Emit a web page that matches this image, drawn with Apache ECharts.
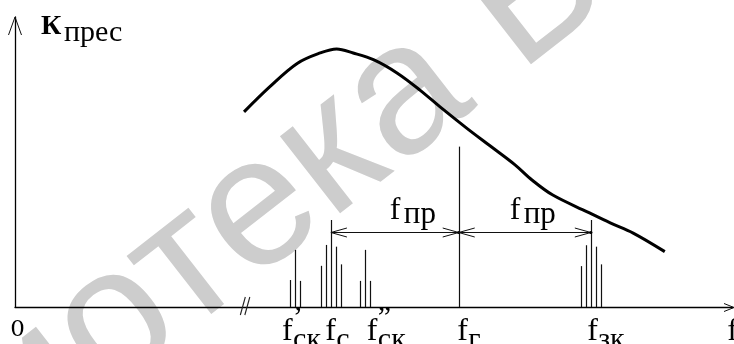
<!DOCTYPE html>
<html><head><meta charset="utf-8">
<script src="https://cdn.jsdelivr.net/npm/echarts@6/dist/echarts.min.js"></script>
<style>html,body{margin:0;padding:0;background:#fff}#c{width:734px;height:344px}</style>
</head><body><div id="c"></div>
<script>
// ---- data (arbitrary frequency units 0..100, gain units 0..100) ----
const curveX = [31.9, 35.5, 39.3, 42.5, 44.8, 47.1, 50.0, 53.2, 56.4, 59.2, 62.9, 66.2, 69.6, 72.0, 74.9, 79.7, 82.9, 86.1, 90.5];
const curveY = [67.3, 76.0, 84.0, 87.6, 89.0, 87.6, 85.2, 80.7, 74.8, 69.0, 61.7, 55.5, 49.1, 43.8, 38.6, 32.8, 29.0, 25.5, 19.1];
const spikeX = [38.3, 39.0, 39.7, 42.6, 43.3, 44.0, 44.7, 45.4, 48.1, 48.8, 49.5, 61.8, 78.8, 79.5, 80.2, 80.9, 81.6];
const spikeH = [9.3, 19.7, 9.0, 14.2, 21.4, 30.0, 20.8, 14.7, 9.0, 19.7, 9.0, 55.3, 14.1, 21.3, 30.0, 20.8, 14.7];
const fS = 44.0, fG = 61.8, fZK = 80.2;
const dimLevel = 26.0;
const dimLabelX = [52.2, 68.9];
const breakX = 31.8;
const tickMain = ['0', 'f', 'f', 'f', 'f', 'f', 'f'];
const tickSup  = ['', '’', '', '”', '', '', ''];
const tickSub  = ['', 'ск', 'с', 'ск', 'г', 'зк', ''];
const tickX    = [0.35, 37.2, 43.2, 49.0, 61.6, 79.7, 99.2];
const yTitleMain = 'К', yTitleSub = 'прес';
const dimLabelMain = 'f', dimLabelSub = 'пр';
const watermark = 'Библиотека БГУИР';

const SERIF = '"Liberation Serif", "Times New Roman", serif';
const chart = echarts.init(document.getElementById('c'));

function txt(x, y, text, size, opts) {
  opts = opts || {};
  return { type: 'text', x: x, y: y, z2: 10,
    style: { text: text, fill: '#000', font: (opts.bold ? 'bold ' : '') + size + 'px ' + (opts.family || SERIF),
      align: opts.align || 'left', verticalAlign: 'middle' } };
}
function chevronH(x, y, dir, len, spread) {
  return { type: 'polyline', shape: { points: [[x - dir * len, y - spread], [x, y], [x - dir * len, y + spread]] },
    style: { stroke: '#111', fill: null, lineWidth: 1 } };
}

const WM_ANG = 38 * Math.PI / 180, WM_SIZE = 185;
const wmAnchor = [447, 65];
const wmSpace = 0.278 * WM_SIZE;
const wmWords = watermark.split(' ');

const option = {
  animation: false,
  backgroundColor: '#fff',
  grid: { left: 15, right: 1, top: 17, bottom: 37 },
  xAxis: { type: 'value', min: 0, max: 100,
    axisLine: { show: true, onZero: false, lineStyle: { color: '#000', width: 1.3 } },
    axisTick: { show: false }, axisLabel: { show: false }, splitLine: { show: false } },
  yAxis: { type: 'value', min: 0, max: 100,
    axisLine: { show: true, onZero: false, lineStyle: { color: '#000', width: 1.3 } },
    axisTick: { show: false }, axisLabel: { show: false }, splitLine: { show: false } },
  graphic: [
    { type: 'text', x: wmAnchor[0], y: wmAnchor[1], rotation: WM_ANG, z: -10, silent: true,
      style: { text: wmWords[0], fill: '#cdcdcd', font: WM_SIZE + 'px "Liberation Sans", sans-serif', align: 'right', verticalAlign: 'middle' } },
    { type: 'text', x: wmAnchor[0] + wmSpace * Math.cos(WM_ANG), y: wmAnchor[1] - wmSpace * Math.sin(WM_ANG), rotation: WM_ANG, z: -10, silent: true,
      style: { text: wmWords[1], fill: '#cdcdcd', font: WM_SIZE + 'px "Liberation Sans", sans-serif', align: 'left', verticalAlign: 'middle' } },
    { type: 'text', x: 41, y: 26.9, z: 10, style: { text: yTitleMain, fill: '#000', font: 'bold 28px ' + SERIF, verticalAlign: 'middle' } },
    { type: 'text', x: 64, y: 33.2, z: 10, style: { text: yTitleSub, fill: '#000', font: '30px ' + SERIF, verticalAlign: 'middle' } }
  ],
  series: [
    { type: 'line', data: curveX.map((x, i) => [x, curveY[i]]), smooth: 0.35, symbol: 'none',
      lineStyle: { color: '#000', width: 3 }, z: 5 },
    { type: 'custom', data: spikeX.map((x, i) => [x, spikeH[i]]), z: 4,
      renderItem: function (p, api) {
        const a = api.coord([api.value(0), 0]), b = api.coord([api.value(0), api.value(1)]);
        const x = Math.round(a[0]) + 0.5;
        return { type: 'line', shape: { x1: x, y1: a[1], x2: x, y2: b[1] }, style: { stroke: '#111', lineWidth: 1.2 } };
      } },
    { type: 'custom', data: [[fS, fG, dimLevel, dimLabelX[0]], [fG, fZK, dimLevel, dimLabelX[1]]], z: 6,
      renderItem: function (p, api) {
        const a = api.coord([api.value(0), api.value(2)]), b = api.coord([api.value(1), api.value(2)]);
        const l = api.coord([api.value(3), api.value(2)]);
        const y = Math.round(a[1]) + 0.5;
        return { type: 'group', children: [
          { type: 'line', shape: { x1: a[0], y1: y, x2: b[0], y2: y }, style: { stroke: '#111', lineWidth: 1 } },
          chevronH(a[0], y, -1, 16, 4.5),
          chevronH(b[0], y, 1, 16, 4.5),
          { type: 'circle', shape: { cx: b[0], cy: y, r: 1.6 }, style: { fill: '#000' } },
          txt(l[0], y - 22.3, dimLabelMain, 32),
          txt(l[0] + 14, y - 18.1, dimLabelSub, 31)
        ] };
      } },
    { type: 'custom', data: tickX.map((x, i) => [x, i]), z: 7,
      renderItem: function (p, api) {
        const i = api.value(1);
        const c = api.coord([api.value(0), 0]);
        const ch = [];
        if (tickMain[i] === '0') {
          ch.push(txt(c[0], c[1] + 22.8, tickMain[i], 23, { align: 'center', family: '"DejaVu Serif", serif' }));
        } else {
          ch.push(txt(c[0], c[1] + 24.1, tickMain[i], 32));
          if (tickSup[i]) ch.push(txt(c[0] + 11, c[1] + 11, tickSup[i], 30));
          if (tickSub[i]) ch.push(txt(c[0] + 11, c[1] + 33.4, tickSub[i], 30));
        }
        return { type: 'group', children: ch };
      } },
    { type: 'custom', data: [[100, 0, 0], [0, 100, 1], [breakX, 0, 2]], z: 8,
      renderItem: function (p, api) {
        const c = api.coord([api.value(0), api.value(1)]);
        const k = api.value(2);
        if (k === 0) return chevronH(c[0] + 1, Math.round(c[1]) + 0.5, 1, 10, 4);
        if (k === 1) return { type: 'polyline', shape: { points: [[c[0] - 6.5, c[1] + 18], [c[0], c[1]], [c[0] + 6.5, c[1] + 18]] },
          style: { stroke: '#111', fill: null, lineWidth: 1 } };
        return { type: 'group', children: [
          { type: 'line', shape: { x1: c[0] - 3, y1: c[1] + 8, x2: c[0] + 2, y2: c[1] - 10 }, style: { stroke: '#222', lineWidth: 1.1 } },
          { type: 'line', shape: { x1: c[0] + 1.5, y1: c[1] + 8, x2: c[0] + 6.5, y2: c[1] - 10 }, style: { stroke: '#222', lineWidth: 1.1 } }
        ] };
      } }
  ]
};
chart.setOption(option);
</script>
</body></html>
